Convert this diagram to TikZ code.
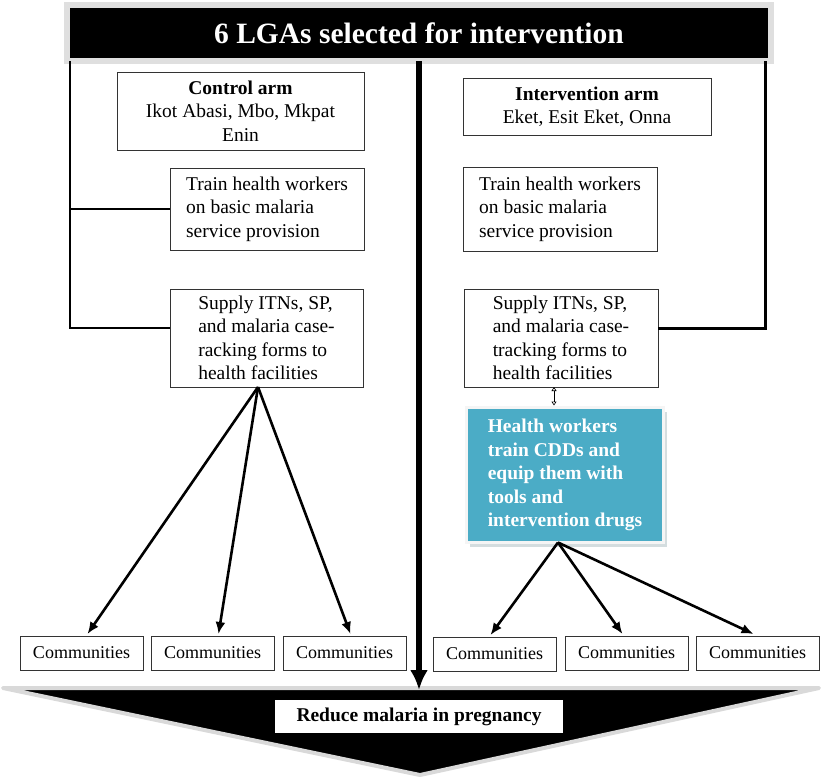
\documentclass[tikz,border=0pt]{standalone}
\usepackage{fontspec}
\setmainfont{Liberation Serif}
\usetikzlibrary{arrows.meta,shadows}

\definecolor{cddblue}{RGB}{75,172,198}

\begin{document}
\begin{tikzpicture}[%
        x = 1pt,
        y = -1pt,
        > = {Latex[length = 12pt, width = 10pt]},
        box/.style = {%
            draw = black!80,
            line width = 0.8pt,
            fill = white,
            anchor = north west,
            outer sep = 0pt,
            inner sep = 0pt,
            align = left,
            font = \fontsize{19.5}{23.5}\selectfont
        },
        commbox/.style = {%
            box,
            minimum width = 123,
            minimum height = 34,
            align = center,
            font = \fontsize{18}{20}\selectfont
        },
        branch/.style = {%
            draw = black,
            line width = 2.6pt,
            ->
        },
        trunk/.style = {%
            draw = black,
            line width = 2pt
        }
    ]

        % Fix the page to the size of the reference.
        \useasboundingbox (0, 0) rectangle (821, 780);

        % Title bar.
        \node[%
            anchor = north west,
            outer sep = 0pt,
            fill = black,
            draw = gray!25,
            line width = 6pt,
            minimum width = 704,
            minimum height = 56,
            text = white,
            font = \bfseries\fontsize{29.5}{32}\selectfont
        ] (title) at (67, 5) {6 LGAs selected for intervention};

        % Control arm boxes.
        \node[box, align = center, minimum width = 247, minimum height = 78]
            (ctrl) at (117, 72) {\textbf{Control arm}\\Ikot Abasi, Mbo, Mkpat\\Enin};
        \node[box, minimum width = 194, minimum height = 82]
            (trainL) at (170, 168) {Train health workers\\on basic malaria\\service provision};
        \node[box, minimum width = 193, minimum height = 98]
            (supplyL) at (170, 289) {Supply ITNs, SP,\\and malaria case-\\racking forms to\\health facilities};

        % Intervention arm boxes.
        \node[box, align = center, minimum width = 248, minimum height = 57]
            (inter) at (463, 78) {\textbf{Intervention arm}\\Eket, Esit Eket, Onna};
        \node[box, minimum width = 194, minimum height = 84]
            (trainR) at (463, 167) {Train health workers\\on basic malaria\\service provision};
        \node[box, minimum width = 194, minimum height = 98]
            (supplyR) at (464, 289) {Supply ITNs, SP,\\and malaria case-\\tracking forms to\\health facilities};
        \node[%
            box,
            fill = cddblue,
            draw = gray!8,
            line width = 3pt,
            minimum width = 197,
            minimum height = 135,
            text = white,
            font = \bfseries\fontsize{19.5}{23.5}\selectfont,
            drop shadow = {%
                shadow xshift = 3pt,
                shadow yshift = -4pt,
                fill = gray!70!cddblue!60
            }
        ] (cdd) at (466.5, 407.5) {Health workers\\train CDDs and\\equip them with\\tools and\\intervention drugs};

        % Communities.
        \node[commbox] (commL1) at (20, 636) {Communities};
        \node[commbox] (commL2) at (151, 636) {Communities};
        \node[commbox] (commL3) at (283, 636) {Communities};
        \node[commbox] (commR1) at (433, 637) {Communities};
        \node[commbox] (commR2) at (565, 636) {Communities};
        \node[commbox] (commR3) at (696, 636) {Communities};

        % Goal triangle.
        \filldraw[%
            fill = black,
            draw = gray!30,
            line width = 4pt,
            line join = round
        ] (3, 688) -- (819, 688) -- (420, 775) -- cycle;
        \coordinate (goaltop) at (419, 690);
        \node[%
            anchor = north west,
            outer sep = 0pt,
            fill = white,
            minimum width = 288,
            minimum height = 33,
            font = \bfseries\fontsize{19.5}{22}\selectfont
        ] (goal) at (275, 700) {Reduce malaria in pregnancy};

        % Side lines joining the boxes to the title.
        \coordinate (ltop) at ([xshift = 3pt]title.south west);
        \coordinate (rtop) at ([xshift = -6pt]title.south east);
        \draw[trunk] (ltop) |- (trainL.west);
        \draw[trunk] (ltop) |- ([yshift = 10pt]supplyL.west);
        \draw[trunk, line width = 3pt] (rtop) |- ([yshift = 10pt]supplyR.east);

        % Main arrow down to the goal.
        \draw[%
            line width = 6pt,
            -{Latex[length = 20pt, width = 18pt]}
        ] (title.south) -- (goaltop);

        % Arrows to the communities.
        \coordinate (fromL) at ([xshift = -8.5pt]supplyL.south);
        \coordinate (fromR) at ([xshift = -7pt]cdd.south);
        \foreach \c in {commL1, commL2, commL3} {
            \draw[branch] (fromL) -- ([xshift = 6pt, yshift = 2pt]\c.north);
        }
        \foreach \c in {commR1, commR2, commR3} {
            \draw[branch] (fromR) -- ([xshift = -4pt, yshift = 2pt]\c.north);
        }

        % Small handle between the supply box and the blue box.
        \draw[%
            line width = 0.6pt,
            {Triangle[open, length = 4pt, width = 5pt]}-{Triangle[open, length = 4pt, width = 5pt]}
        ] ([xshift = -7pt]supplyR.south) -- ([xshift = -7pt, yshift = 2pt]supplyR.south |- cdd.north);

    \end{tikzpicture}
\end{document}
